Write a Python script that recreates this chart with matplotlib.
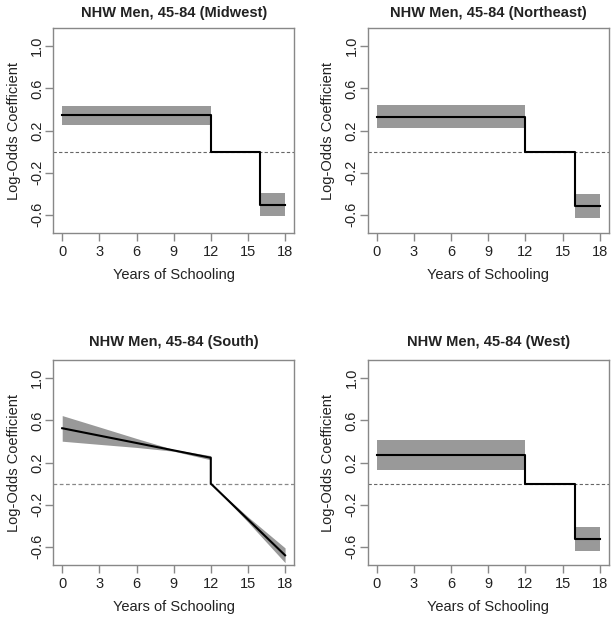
import matplotlib
matplotlib.use("Agg")
import matplotlib.pyplot as plt
import numpy as np

plt.rcParams['font.family'] = ['Liberation Sans', 'DejaVu Sans']

titles = ["NHW Men, 45-84 (Midwest)", "NHW Men, 45-84 (Northeast)",
          "NHW Men, 45-84 (South)", "NHW Men, 45-84 (West)"]

x_ticks = [0, 3, 6, 9, 12, 15, 18]
y_ticks = [-0.6, -0.2, 0.2, 0.6, 1.0]
y_tick_labels = ["-0.6", "-0.2", "0.2", "0.6", "1.0"]

# Step-function regions: [0,12] level, [12,16] = 0 reference, [16,18] level
step_est_low = {"Midwest": 0.343, "Northeast": 0.331, "West": 0.268}
step_lo_low = {"Midwest": 0.25, "Northeast": 0.224, "West": 0.129}
step_hi_low = {"Midwest": 0.43, "Northeast": 0.44, "West": 0.41}
step_est_high = {"Midwest": -0.505, "Northeast": -0.514, "West": -0.527}
step_lo_high = {"Midwest": -0.61, "Northeast": -0.63, "West": -0.64}
step_hi_high = {"Midwest": -0.39, "Northeast": -0.40, "West": -0.413}

# South: linear spline
south_x1 = [0, 3, 6, 9, 12]
south_est1 = [0.525, 0.455, 0.385, 0.315, 0.245]
south_lo1 = [0.402, 0.372, 0.343, 0.307, 0.225]
south_hi1 = [0.645, 0.537, 0.428, 0.323, 0.265]
south_x2 = [12, 15, 18]
south_est2 = [0.0, -0.34, -0.68]
south_lo2 = [0.0, -0.365, -0.75]
south_hi2 = [0.0, -0.315, -0.61]

W, H = 614, 618
fig = plt.figure(figsize=(W / 100, H / 100), dpi=100)

boxes = {
    "Midwest": (53.3, 28, 294, 233),
    "Northeast": (367.7, 28, 608.7, 233),
    "South": (53.3, 360, 294, 565),
    "West": (367.7, 360, 608.7, 565),
}
title_y = {"Midwest": 12.5, "Northeast": 12.5, "South": 342.3, "West": 342.3}
order = ["Midwest", "Northeast", "South", "West"]
band_col = "#999999"
spine_col = "#888888"
text_col = "#222222"
fs = 10.5

for name, title in zip(order, titles):
    l, t, r, b = boxes[name]
    ax = fig.add_axes([l / W, 1 - b / H, (r - l) / W, (b - t) / H])
    if name == "South":
        ax.fill_between(south_x1, south_lo1, south_hi1, color=band_col, lw=0)
        ax.fill_between(south_x2, south_lo2, south_hi2, color=band_col, lw=0)
        ax.axhline(0, color="#888888", lw=0.9, ls=(0, (3, 2)), zorder=1)
        xs = [south_x1[0], south_x1[-1], south_x2[0], south_x2[-1]]
        ys = [south_est1[0], south_est1[-1], south_est2[0], south_est2[-1]]
        ax.plot(xs, ys, color="black", lw=1.5, zorder=3)
    else:
        ax.fill_between([0, 12], step_lo_low[name], step_hi_low[name], color=band_col, lw=0)
        ax.fill_between([16, 18], step_lo_high[name], step_hi_high[name], color=band_col, lw=0)
        ax.axhline(0, color="#666666", lw=0.8, ls=(0, (3, 2)), zorder=1)
        xs = [0, 12, 12, 16, 16, 18]
        ys = [step_est_low[name], step_est_low[name], 0, 0,
              step_est_high[name], step_est_high[name]]
        ax.plot(xs, ys, color="black", lw=1.5, zorder=3)

    ax.set_xlim(-0.72, 18.72)
    ax.set_ylim(-0.772, 1.172)
    ax.set_xticks(x_ticks)
    ax.set_xticklabels([str(v) for v in x_ticks])
    ax.set_yticks(y_ticks)
    ax.set_yticklabels(y_tick_labels, rotation=90, va="center")
    for s in ax.spines.values():
        s.set_color(spine_col)
        s.set_linewidth(1.0)
    ax.tick_params(colors=spine_col, labelcolor=text_col, labelsize=fs,
                   length=5.5, width=1.0)
    ax.tick_params(axis="x", pad=3)
    ax.tick_params(axis="y", pad=1)
    ax.set_xlabel("Years of Schooling", fontsize=fs, color=text_col, labelpad=6.5)
    ax.set_ylabel("Log-Odds Coefficient", fontsize=fs, color=text_col, labelpad=7)
    fig.text((l + r) / 2 / W, 1 - title_y[name] / H, title, fontsize=fs,
             fontweight="bold", color=text_col, ha="center", va="center")

fig.savefig("out.png", dpi=100)
